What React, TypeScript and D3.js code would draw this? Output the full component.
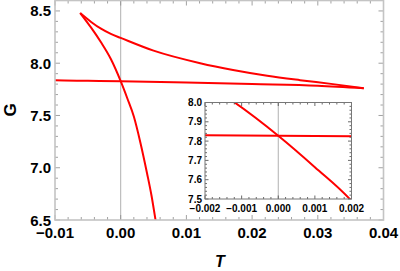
import React from 'react';
import * as d3 from 'd3';

// swallowtail branches
const lowerT = [-0.012, -0.01, -0.005, 0, 0.01, 0.02, 0.03, 0.037];
const lowerG = [7.84, 7.836, 7.832, 7.828, 7.815, 7.8, 7.784, 7.76];

const upperT = [-0.00617, -0.0045, -0.003, -0.0015, 0, 0.005, 0.0121, 0.0171, 0.0223, 0.0273, 0.0323, 0.037];
const upperG = [8.48, 8.395, 8.33, 8.28, 8.242, 8.12, 8.0, 7.935, 7.88, 7.838, 7.8, 7.76];

const steepT = [-0.00617, -0.0045, -0.003, -0.0015, 0, 0.001, 0.002, 0.003, 0.004, 0.0047, 0.0053, 0.0056];
const steepG = [8.48, 8.34, 8.2, 8.04, 7.828, 7.665, 7.49, 7.24, 6.95, 6.73, 6.5, 6.38];

const branches = [
  { t: lowerT, g: lowerG },
  { t: upperT, g: upperG },
  { t: steepT, g: steepG },
];

const W = 400;
const H = 271;
const FONT = '"Liberation Sans", Arial, sans-serif';

type Box = { left: number; right: number; top: number; bottom: number };

function Panel({ box, xDom, yDom, xMajor, xMinor, yMajor, yMinor, xFmt, yFmt, fs, frame, lw, id, tickLen }: any) {
  const x = d3.scaleLinear().domain(xDom).range([box.left, box.right]);
  const y = d3.scaleLinear().domain(yDom).range([box.bottom, box.top]);
  const line = d3
    .line<[number, number]>()
    .x((d) => x(d[0]))
    .y((d) => y(d[1]))
    .curve(d3.curveMonotoneX);

  const xt = x.ticks(xMajor);
  const xm = x.ticks(xMinor);
  const yt = y.ticks(yMajor);
  const ym = y.ticks(yMinor);
  const isMajor = (v: number, arr: number[]) => arr.some((a) => Math.abs(a - v) < 1e-9);
  const fx = d3.format(xFmt);
  const fy = d3.format(yFmt);
  const [maj, min] = tickLen;

  return (
    <g>
      <defs>
        <clipPath id={id}>
          <rect x={box.left} y={box.top} width={box.right - box.left} height={box.bottom - box.top} />
        </clipPath>
      </defs>
      <rect x={box.left} y={box.top} width={box.right - box.left} height={box.bottom - box.top} fill="white" />
      <line x1={x(0)} x2={x(0)} y1={box.top} y2={box.bottom} stroke="#b0b0b0" strokeWidth={1} />
      <g clipPath={`url(#${id})`}>
        {branches.map((b, i) => (
          <path
            key={i}
            d={line(b.t.map((t, j) => [t, b.g[j]] as [number, number])) || ''}
            fill="none"
            stroke="#ff0000"
            strokeWidth={lw}
          />
        ))}
      </g>
      {/* frame ticks */}
      {xm.map((v: number, i: number) => {
        const len = isMajor(v, xt) ? maj : min;
        return (
          <g key={'x' + i} stroke={frame.tick} strokeWidth={0.8}>
            <line x1={x(v)} x2={x(v)} y1={box.bottom} y2={box.bottom - len} />
            <line x1={x(v)} x2={x(v)} y1={box.top} y2={box.top + len} />
          </g>
        );
      })}
      {ym.map((v: number, i: number) => {
        const len = isMajor(v, yt) ? maj : min;
        return (
          <g key={'y' + i} stroke={frame.tick} strokeWidth={0.8}>
            <line x1={box.left} x2={box.left + len} y1={y(v)} y2={y(v)} />
            <line x1={box.right} x2={box.right - len} y1={y(v)} y2={y(v)} />
          </g>
        );
      })}
      <rect
        x={box.left}
        y={box.top}
        width={box.right - box.left}
        height={box.bottom - box.top}
        fill="none"
        stroke={frame.color}
        strokeWidth={frame.width}
      />
      {xt.map((v: number, i: number) => (
        <text key={'xl' + i} x={x(v)} y={box.bottom + fs.xOff} textAnchor="middle" fontSize={fs.size} fontWeight="bold" fontFamily={FONT}>
          {fx(v)}
        </text>
      ))}
      {yt.map((v: number, i: number) => (
        <text
          key={'yl' + i}
          x={box.left - fs.yOff}
          y={y(v)}
          textAnchor="end"
          dominantBaseline="central"
          fontSize={fs.size}
          fontWeight="bold"
          fontFamily={FONT}
        >
          {fy(v)}
        </text>
      ))}
    </g>
  );
}

export default function App() {
  const main: Box = { left: 55, right: 383.5, top: 0.5, bottom: 220 };
  const inset: Box = { left: 205, right: 351.5, top: 102.5, bottom: 199 };

  return (
    <svg width={W} height={H} style={{ position: 'absolute', left: 0, top: 0, background: 'white' }}>
      <Panel
        id="clipMain"
        box={main}
        xDom={[-0.01, 0.04]}
        yDom={[6.5, 8.6]}
        xMajor={5}
        xMinor={25}
        yMajor={5}
        yMinor={20}
        xFmt=".2f"
        yFmt=".1f"
        fs={{ size: 15, xOff: 18, yOff: 4 }}
        frame={{ color: '#c4c4c4', width: 1.6, tick: '#8a8a8a' }}
        tickLen={[5, 3]}
        lw={2}
      />
      <Panel
        id="clipInset"
        box={inset}
        xDom={[-0.002, 0.002]}
        yDom={[7.5, 8.0]}
        xMajor={4}
        xMinor={20}
        yMajor={5}
        yMinor={25}
        xFmt=".3f"
        yFmt=".1f"
        fs={{ size: 10, xOff: 13, yOff: 3 }}
        frame={{ color: '#777777', width: 1, tick: '#444444' }}
        tickLen={[3.5, 2]}
        lw={2}
      />
      <text
        transform="translate(16,110) rotate(-90)"
        textAnchor="middle"
        fontSize={17}
        fontWeight="bold"
        fontFamily={FONT}
      >
        G
      </text>
      <text x={220} y={267} textAnchor="middle" fontSize={16} fontWeight="bold" fontStyle="italic" fontFamily={FONT}>
        T
      </text>
    </svg>
  );
}
